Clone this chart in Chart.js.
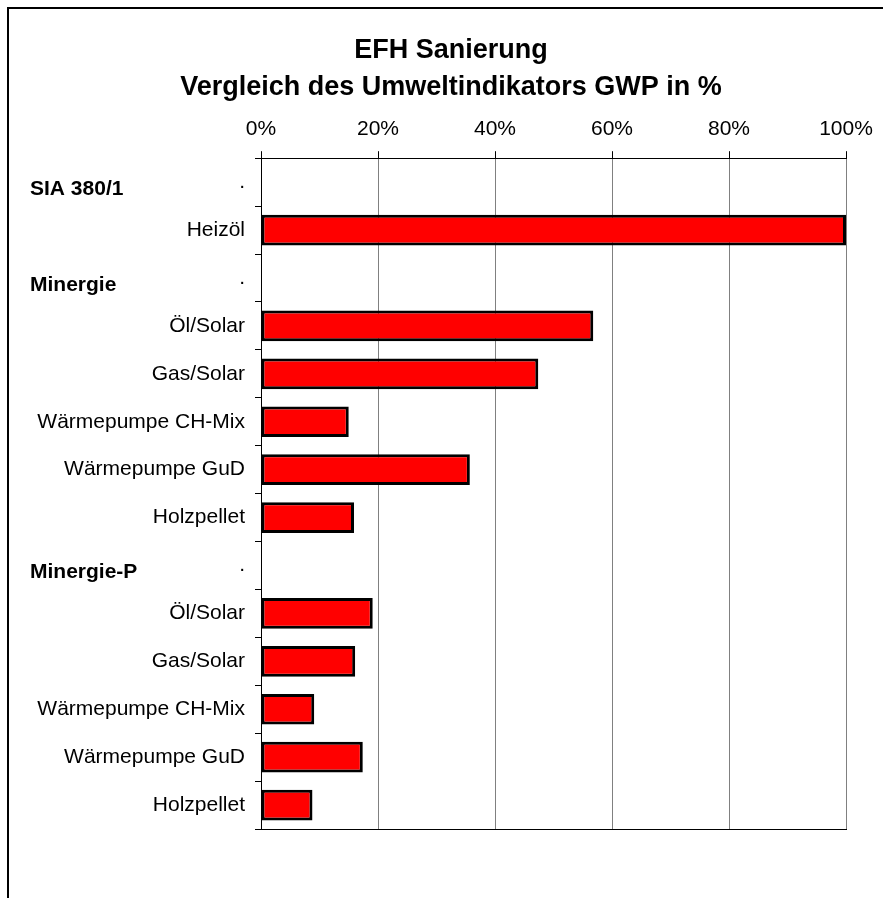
<!DOCTYPE html>
<html>
<head>
<meta charset="utf-8">
<title>EFH Sanierung</title>
<script src="https://cdn.jsdelivr.net/npm/chart.js@4"></script>
<style>
    body { margin: 0; background: #fff; }
    canvas { display: block; }
</style>
</head>
<body>
<canvas id="gwp" width="883" height="898"></canvas>
<script>
const titleLines = ['EFH Sanierung', 'Vergleich des Umweltindikators GWP in %'];
const groups = ['SIA 380/1', 'Minergie', 'Minergie-P'];

const siaLabels = ['Heizöl'];
const siaValues = [100];

const minergieLabels = ['Öl/Solar', 'Gas/Solar', 'Wärmepumpe CH-Mix', 'Wärmepumpe GuD', 'Holzpellet'];
const minergieValues = [56.8, 47.4, 15.0, 35.7, 15.9];

const minergiePLabels = ['Öl/Solar', 'Gas/Solar', 'Wärmepumpe CH-Mix', 'Wärmepumpe GuD', 'Holzpellet'];
const minergiePValues = [19.1, 16.1, 9.1, 17.4, 8.8];

const xTicks = [0, 20, 40, 60, 80, 100];

const fontFamily = '"Liberation Sans", Arial, sans-serif';
Chart.defaults.font.family = fontFamily;
Chart.defaults.color = '#000';

// each group gets a header row (label ".", no bar) followed by its items
const groupLabels = [siaLabels, minergieLabels, minergiePLabels];
const groupValues = [siaValues, minergieValues, minergiePValues];
let labels = [];
let values = [];
let headerRows = [];

groups.forEach((name, g) => {
    headerRows.push(labels.length);
    labels.push('.');
    values.push(null);
    groupLabels[g].forEach((label, i) => {
        labels.push(label);
        values.push(groupValues[g][i]);
    });
});

// white page, the outer frame and the two title lines
const frame = {
    id: 'frame',
    beforeDraw(chart) {
        const ctx = chart.ctx;
        ctx.save();
        ctx.fillStyle = '#fff';
        ctx.fillRect(0, 0, chart.width, chart.height);
        ctx.strokeStyle = '#000';
        ctx.lineWidth = 2;
        ctx.strokeRect(8, 8, chart.width + 20, chart.height + 20);

        ctx.fillStyle = '#000';
        ctx.font = 'bold 27px ' + fontFamily;
        ctx.textAlign = 'center';
        ctx.textBaseline = 'alphabetic';
        ctx.fillText(titleLines[0], 451, 58);
        ctx.fillText(titleLines[1], 451, 95);
        ctx.restore();
    }
};

const groupHeaders = {
    id: 'groupHeaders',
    afterDraw(chart) {
        const ctx = chart.ctx;
        const yScale = chart.scales.y;
        ctx.save();
        ctx.font = 'bold 21px ' + fontFamily;
        ctx.fillStyle = '#000';
        ctx.textAlign = 'left';
        ctx.textBaseline = 'middle';
        headerRows.forEach((row, g) => {
            ctx.fillText(groups[g], 30, yScale.getPixelForValue(row) + 7);
        });
        ctx.restore();
    }
};

const ctx = document.getElementById('gwp').getContext('2d');

new Chart(ctx, {
    type: 'bar',
    data: {
        labels: labels,
        datasets: [{
            data: values,
            backgroundColor: '#ff0000',
            borderColor: '#000',
            borderWidth: 3,
            borderSkipped: false,
            barPercentage: 0.64,
            categoryPercentage: 1
        }]
    },
    options: {
        indexAxis: 'y',
        responsive: false,
        animation: false,
        layout: {
            padding: { top: 108, left: 10, right: 37, bottom: 69 }
        },
        plugins: {
            legend: { display: false },
            tooltip: { enabled: false },
            title: { display: false }
        },
        scales: {
            x: {
                position: 'top',
                min: 0,
                max: 100,
                afterBuildTicks: scale => {
                    scale.ticks = xTicks.map(v => ({ value: v }));
                },
                ticks: {
                    callback: value => value + '%',
                    font: { size: 21 },
                    padding: 9,
                    maxRotation: 0
                },
                grid: {
                    color: c => (c.tick && c.tick.value === 0) ? '#000' : '#808080',
                    tickColor: '#000',
                    tickLength: 7,
                    lineWidth: 1
                },
                border: { color: '#000', width: 1 }
            },
            x2: {
                type: 'linear',
                axis: 'x',
                position: 'bottom',
                min: 0,
                max: 100,
                ticks: { display: false },
                grid: { display: false },
                border: { color: '#000', width: 1 },
                afterFit: scale => { scale.height = 0; }
            },
            y: {
                afterFit: scale => { scale.width = 251; },
                ticks: {
                    font: { size: 21 },
                    padding: 10,
                    autoSkip: false
                },
                grid: {
                    drawOnChartArea: false,
                    offset: true,
                    color: '#000',
                    tickLength: 6
                },
                border: { color: '#000', width: 1 }
            }
        }
    },
    plugins: [frame, groupHeaders]
});
</script>
</body>
</html>
